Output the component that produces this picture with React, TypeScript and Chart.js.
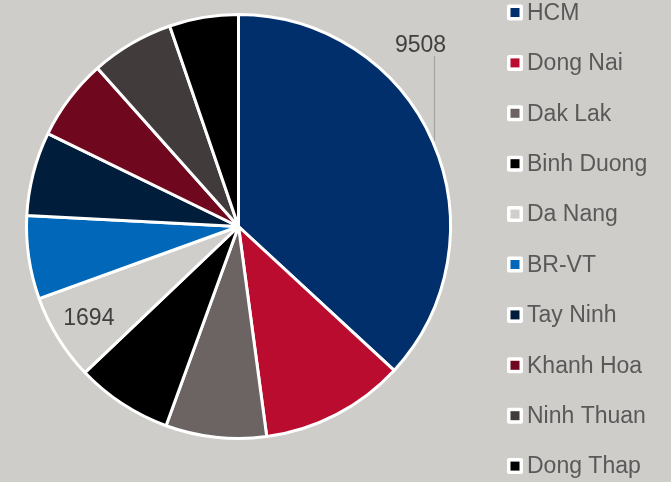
import React, { useEffect, useRef } from "react";
import { Chart, registerables } from "chart.js";

Chart.register(...registerables);

const categories = ["HCM", "Dong Nai", "Dak Lak", "Binh Duong", "Da Nang", "BR-VT", "Tay Ninh", "Khanh Hoa", "Ninh Thuan", "Dong Thap"];
const values = [9508, 2835, 1980, 1895, 1694, 1636, 1650, 1600, 1629, 1356];
const sliceColors = ["#002F6C", "#BA0C2F", "#6B6462", "#000000", "#D0CECB", "#0067B9", "#001E3C", "#6F081F", "#413B3B", "#000000"];
const shownLabels = [true, false, false, false, true, false, false, false, false, false];

const BG = "#CFCDC9";
const FONT = '23px "Liberation Sans", Arial, sans-serif';

const labelsPlugin = {
  id: "customLabels",
  afterDraw(chart: any) {
    const ctx = chart.ctx;
    const meta = chart.getDatasetMeta(0);
    ctx.save();
    ctx.font = FONT;
    ctx.fillStyle = "#404040";
    meta.data.forEach((arc: any, i: number) => {
      if (!shownLabels[i]) return;
      const { x, y, startAngle, endAngle, outerRadius } = arc.getProps(["x", "y", "startAngle", "endAngle", "outerRadius"], true);
      const mid = (startAngle + endAngle) / 2;
      const text = String(values[i]);
      if (i === 0) {
        const px = x + Math.cos(mid) * (outerRadius + 1);
        const py = y + Math.sin(mid) * (outerRadius + 1);
        const lx = Math.round(px) + 0.5;
        ctx.strokeStyle = "#A6A6A6";
        ctx.lineWidth = 1.2;
        ctx.beginPath();
        ctx.moveTo(lx, py);
        ctx.lineTo(lx, 56);
        ctx.stroke();
        ctx.textAlign = "center";
        ctx.textBaseline = "alphabetic";
        ctx.fillText(text, lx - 14, 52);
      } else {
        const d = outerRadius * 0.83;
        ctx.textAlign = "center";
        ctx.textBaseline = "middle";
        ctx.fillText(text, x + Math.cos(mid) * d, y + Math.sin(mid) * d);
      }
    });
    // legend
    const startY = 12.5;
    const step = 50.4;
    ctx.font = FONT;
    ctx.textAlign = "left";
    ctx.textBaseline = "middle";
    categories.forEach((name, i) => {
      const cy = startY + step * i;
      ctx.fillStyle = "#FFFFFF";
      ctx.beginPath();
      (ctx as any).roundRect ? (ctx as any).roundRect(507, cy - 8, 16, 16, 2) : ctx.rect(507, cy - 8, 16, 16);
      ctx.fill();
      ctx.fillStyle = sliceColors[i];
      ctx.fillRect(510.5, cy - 4.5, 9, 9);
      ctx.fillStyle = "#595959";
      ctx.fillText(name, 527, cy + 1);
    });
    ctx.restore();
  },
};

export default function App() {
  const ref = useRef<HTMLCanvasElement | null>(null);
  useEffect(() => {
    if (!ref.current) return;
    const chart = new Chart(ref.current, {
      type: "pie",
      data: {
        labels: categories,
        datasets: [
          {
            data: values,
            backgroundColor: sliceColors,
            borderColor: "#FFFFFF",
            borderWidth: 3,
            radius: 212,
          } as any,
        ],
      },
      options: {
        responsive: false,
        animation: false,
        layout: { padding: { left: 0, right: 194, top: 0, bottom: 29 } },
        plugins: {
          legend: { display: false },
          tooltip: { enabled: false },
          title: { display: false },
        },
      },
      plugins: [labelsPlugin],
    });
    return () => chart.destroy();
  }, []);
  return (
    <div style={{ position: "fixed", left: 0, top: 0, width: 671, height: 482, background: BG }}>
      <canvas ref={ref} width={671} height={482} style={{ display: "block" }} />
    </div>
  );
}
